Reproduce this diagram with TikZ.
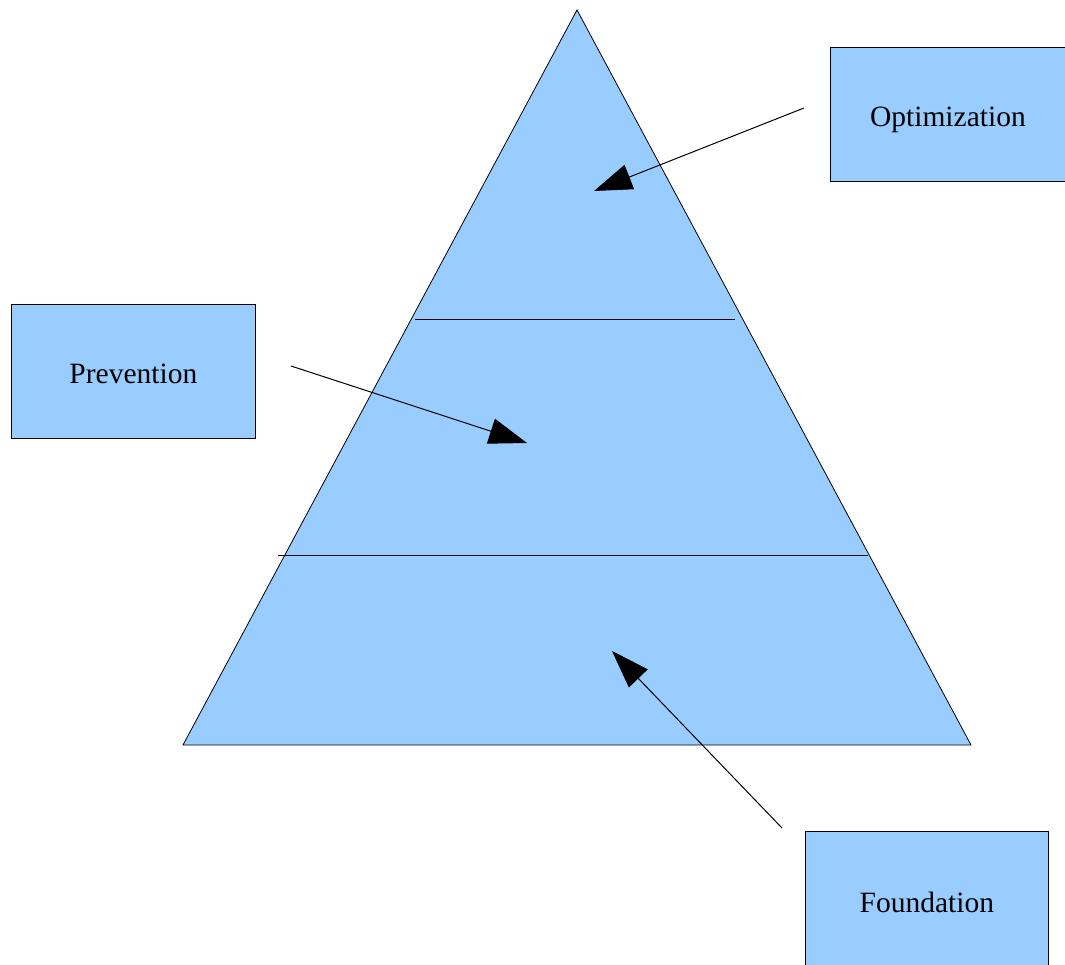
\documentclass[tikz,border=0pt]{standalone}
\usepackage{fontspec}
\setmainfont{Liberation Serif}
\usetikzlibrary{arrows.meta}
\definecolor{pyr}{HTML}{99CCFF}
\tikzset{
  label box/.style={draw=black, line width=0.8pt, fill=pyr, minimum width=244pt, minimum height=134pt, inner sep=0pt, text height=25pt, text depth=1pt, font=\fontsize{29.5}{36}\selectfont, anchor=north west},
  pointer/.style={line width=1pt, -{Triangle[length=38pt,width=26pt]}},
  layer line/.style={line width=0.9pt}
}
\begin{document}
\begin{tikzpicture}[x=1pt,y=-1pt]
\useasboundingbox (0,0) rectangle (1065,965);
\begin{scope}
\clip (0,0) rectangle (1065,965);
% pyramid
\coordinate (apex) at (577,10);
\coordinate (bl) at (183,745);
\coordinate (br) at (971,745);
\draw[line width=0.8pt, fill=pyr] (apex) -- (br) -- (bl) -- cycle;
\coordinate (l1a) at (415,319);
\coordinate (l1b) at (735,319);
\coordinate (l2a) at (278,555);
\coordinate (l2b) at (868,555);
\draw[layer line] (l1a) -- (l1b);
\draw[layer line] (l2a) -- (l2b);
% boxes
\node[label box, minimum width=235pt] (opt) at (830,47) {Optimization};
\node[label box] (prev) at (11,304) {Prevention};
\node[label box, minimum width=243pt, minimum height=138pt] (found) at (805,831) {Foundation};
% arrows
\coordinate (optS) at (804,108);
\coordinate (optT) at (594,191);
\coordinate (prevS) at (291,366);
\coordinate (prevT) at (527,443);
\coordinate (foundS) at (782,828);
\coordinate (foundT) at (612,651);
\draw[pointer] (optS) -- (optT);
\draw[pointer] (prevS) -- (prevT);
\draw[pointer] (foundS) -- (foundT);
\end{scope}
\end{tikzpicture}
\end{document}
